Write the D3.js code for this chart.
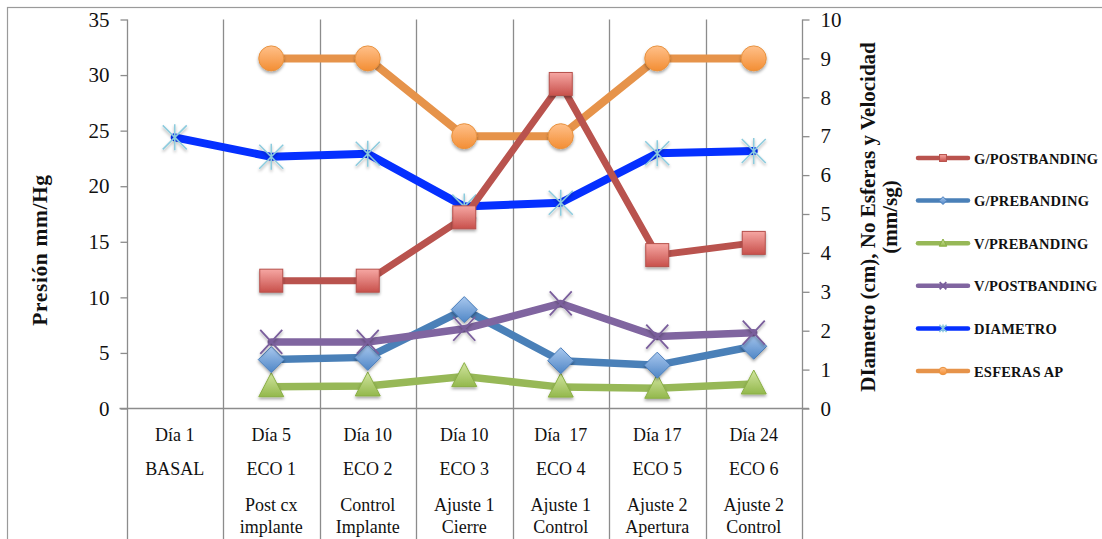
<!DOCTYPE html>
<html>
<head>
<meta charset="utf-8">
<script src="https://cdn.jsdelivr.net/npm/d3@7"></script>
<style>
  html, body { margin: 0; padding: 0; background: #fff; }
  svg { display: block; }
  text { font-family: "Liberation Serif", "DejaVu Serif", serif; fill: #111; }
</style>
</head>
<body>
<svg id="chart" width="1102" height="539"></svg>
<script>
// Category rows shown in the table under the plot
const dayLabels   = ["Día 1", "Día 5", "Día 10", "Día 10", "Día  17", "Día 17", "Día 24"];
const ecoLabels   = ["BASAL", "ECO 1", "ECO 2", "ECO 3", "ECO 4", "ECO 5", "ECO 6"];
const stageLabels = [[], ["Post cx", "implante"], ["Control", "Implante"], ["Ajuste 1", "Cierre"],
                     ["Ajuste 1", "Control"], ["Ajuste 2", "Apertura"], ["Ajuste 2", "Control"]];

// Pressure gradients (mm/Hg, left axis)
const gPostbanding = [null, 11.5, 11.5, 17.2, 29.2, 13.8, 14.9];
const gPrebanding  = [null, 4.4, 4.6, 8.9, 4.3, 3.9, 5.6];
// Velocities (right axis)
const vPrebanding  = [null, 0.56, 0.58, 0.82, 0.55, 0.52, 0.63];
const vPostbanding = [null, 1.71, 1.71, 2.05, 2.7, 1.85, 1.95];
// Diameter (cm) and number of spheres (right axis)
const diametro     = [6.97, 6.47, 6.55, 5.19, 5.29, 6.56, 6.62];
const esferasAP    = [null, 9, 9, 7, 7, 9, 9];

const leftTicks  = [0, 5, 10, 15, 20, 25, 30, 35];
const rightTicks = [0, 1, 2, 3, 4, 5, 6, 7, 8, 9, 10];

const svg = d3.select("#chart");
const defs = svg.append("defs");

const plotLeft = 126.5, plotRight = 802, plotTop = 19.5, plotBottom = 408.5, tableBottom = 539;

const x = d3.scaleBand().domain(d3.range(dayLabels.length)).range([plotLeft, plotRight]);
const yL = d3.scaleLinear().domain([0, 35]).range([plotBottom, plotTop]);
const yR = d3.scaleLinear().domain([0, 10]).range([plotBottom, plotTop]);

// shadow under markers
const sh = defs.append("filter").attr("id", "shadow")
  .attr("x", "-50%").attr("y", "-50%").attr("width", "200%").attr("height", "200%");
sh.append("feDropShadow").attr("dx", 0).attr("dy", 2).attr("stdDeviation", 1.6)
  .attr("flood-color", "#000").attr("flood-opacity", 0.35);

function grad(id, c1, c2) {
  const g = defs.append("linearGradient").attr("id", id)
    .attr("x1", 0).attr("y1", 0).attr("x2", 0).attr("y2", 1);
  g.append("stop").attr("offset", "0%").attr("stop-color", c1);
  g.append("stop").attr("offset", "100%").attr("stop-color", c2);
}
grad("gRed", "#F6A7A3", "#C8504B");
grad("gBlue", "#A9C8EE", "#4F86C6");
grad("gGreen", "#D2E5A0", "#93B84C");
grad("gOrange", "#FFC08A", "#F38E34");

// outer frame
svg.append("rect").attr("x", 7.5).attr("y", 7.5).attr("width", 1110).attr("height", 560)
  .attr("fill", "none").attr("stroke", "#9a9a9a").attr("stroke-width", 1.2);

// vertical grid/table separators
const bounds = d3.range(dayLabels.length + 1).map(i => i === dayLabels.length ? plotRight : x(i));
svg.append("g").selectAll("line").data(bounds).join("line")
  .attr("x1", d => Math.round(d) + 0.5).attr("x2", d => Math.round(d) + 0.5)
  .attr("y1", plotTop).attr("y2", tableBottom)
  .attr("stroke", "#8c8c8c").attr("stroke-width", 1.3);

// left axis
const axL = svg.append("g").attr("transform", `translate(${Math.round(plotLeft) + 0.5},0)`)
  .call(d3.axisLeft(yL).tickValues(leftTicks).tickSize(7).tickPadding(11));
axL.select(".domain").remove();
axL.selectAll("line").attr("stroke", "#8c8c8c").attr("stroke-width", 1.3);
axL.selectAll("text").attr("font-size", 21).style("font-family", "Liberation Serif").attr("fill", "#111");

// right axis
const axR = svg.append("g").attr("transform", `translate(${Math.round(plotRight) + 0.5},0)`)
  .call(d3.axisRight(yR).tickValues(rightTicks).tickSize(7).tickPadding(11));
axR.select(".domain").remove();
axR.selectAll("line").attr("stroke", "#8c8c8c").attr("stroke-width", 1.3);
axR.selectAll("text").attr("font-size", 21).style("font-family", "Liberation Serif").attr("fill", "#111");

// horizontal axis line
svg.append("line").attr("x1", plotLeft - 7).attr("x2", plotRight + 7)
  .attr("y1", plotBottom).attr("y2", plotBottom)
  .attr("stroke", "#8c8c8c").attr("stroke-width", 1.3);

// category table text
const cx = i => x(i) + x.bandwidth() / 2;
const tbl = svg.append("g").attr("font-size", 18).attr("text-anchor", "middle");
tbl.selectAll(".day").data(dayLabels).join("text").attr("class", "day")
  .attr("x", (d, i) => cx(i)).attr("y", 441).style("white-space", "pre").text(d => d);
tbl.selectAll(".eco").data(ecoLabels).join("text").attr("class", "eco")
  .attr("x", (d, i) => cx(i)).attr("y", 475).text(d => d);
stageLabels.forEach((lines, i) => {
  lines.forEach((t, j) => {
    tbl.append("text").attr("x", cx(i)).attr("y", 511 + j * 22).text(t);
  });
});

// axis titles
svg.append("text").attr("transform", "translate(47,250) rotate(-90)")
  .attr("text-anchor", "middle").attr("font-size", 21.5).attr("font-weight", "bold")
  .attr("letter-spacing", 0.6)
  .text("Presión mm/Hg");
const rt = svg.append("text").attr("transform", "translate(875,217) rotate(-90)")
  .attr("text-anchor", "middle").attr("font-size", 21).attr("font-weight", "bold");
rt.append("tspan").attr("x", 0).attr("dy", 0).text("DIametro (cm), No Esferas y Velocidad");
rt.append("tspan").attr("x", 0).attr("dy", 22).text("(mm/sg)");

// marker painters
const markers = {
  square: (g, s) => g.append("rect").attr("x", -11.5 * s).attr("y", -11.5 * s)
    .attr("width", 23 * s).attr("height", 23 * s)
    .attr("fill", "url(#gRed)").attr("stroke", "#B6504B").attr("stroke-width", 1),
  diamond: (g, s) => g.append("path")
    .attr("d", `M0,${-13 * s}L${13 * s},0L0,${13 * s}L${-13 * s},0Z`)
    .attr("fill", "url(#gBlue)").attr("stroke", "#4A7EBB").attr("stroke-width", 1),
  triangle: (g, s) => g.append("path")
    .attr("d", `M0,${-14 * s}L${12.5 * s},${10 * s}L${-12.5 * s},${10 * s}Z`)
    .attr("fill", "url(#gGreen)").attr("stroke", "#8AAF45").attr("stroke-width", 1),
  cross: (g, s) => g.append("path")
    .attr("d", `M${-11 * s},${-12 * s}L${11 * s},${12 * s}M${11 * s},${-12 * s}L${-11 * s},${12 * s}`)
    .attr("fill", "none").attr("stroke", "#7A5E9C").attr("stroke-width", 1.8),
  star: (g, s) => g.append("path")
    .attr("d", `M${-12 * s},${-12 * s}L${12 * s},${12 * s}M${12 * s},${-12 * s}L${-12 * s},${12 * s}M0,${-13 * s}L0,${13 * s}`)
    .attr("fill", "none").attr("stroke", "#8CCBDD").attr("stroke-width", 1.5),
  circle: (g, s) => g.append("circle").attr("r", 12.5 * s)
    .attr("fill", "url(#gOrange)").attr("stroke", "#E8923F").attr("stroke-width", 1)
};

const series = [
  { name: "G/POSTBANDING", values: gPostbanding, axis: yL, color: "#B9534E", width: 7, marker: "square" },
  { name: "G/PREBANDING",  values: gPrebanding,  axis: yL, color: "#4A80B8", width: 7.5, marker: "diamond" },
  { name: "V/PREBANDING",  values: vPrebanding,  axis: yR, color: "#97B857", width: 7.5, marker: "triangle" },
  { name: "V/POSTBANDING", values: vPostbanding, axis: yR, color: "#8065A0", width: 7.5, marker: "cross" },
  { name: "DIAMETRO",      values: diametro,     axis: yR, color: "#0530FF", width: 8, marker: "star" },
  { name: "ESFERAS AP",    values: esferasAP,    axis: yR, color: "#E6934A", width: 8, marker: "circle" }
];

// draw order: orange and blue diameter at the back, pressure series over them
const drawOrder = ["ESFERAS AP", "DIAMETRO", "V/PREBANDING", "G/PREBANDING", "V/POSTBANDING", "G/POSTBANDING"];
const plot = svg.append("g");
drawOrder.map(n => series.find(s => s.name === n)).forEach(s => {
  const pts = s.values.map((v, i) => ({ i, v })).filter(d => d.v !== null);
  const line = d3.line().x(d => cx(d.i)).y(d => s.axis(d.v)).curve(d3.curveLinear);
  const g = plot.append("g");
  g.append("path").datum(pts).attr("d", line)
    .attr("fill", "none").attr("stroke", s.color).attr("stroke-width", s.width)
    .attr("stroke-linejoin", "round").attr("stroke-linecap", "round");
  g.selectAll(".m").data(pts).join("g").attr("class", "m")
    .attr("transform", d => `translate(${cx(d.i)},${s.axis(d.v)})`)
    .attr("filter", "url(#shadow)")
    .each(function () { markers[s.marker](d3.select(this), 1); });
});

// legend
const leg = svg.append("g");
series.forEach((s, k) => {
  const yy = 158 + k * 42.6;
  const g = leg.append("g").attr("transform", `translate(0,${yy})`);
  g.append("line").attr("x1", 918).attr("x2", 968).attr("y1", 0).attr("y2", 0)
    .attr("stroke", s.color).attr("stroke-width", 4.5).attr("stroke-linecap", "round");
  const mg = g.append("g").attr("transform", "translate(943,0)");
  markers[s.marker](mg, 0.3);
  g.append("text").attr("x", 974).attr("y", 5.5).attr("font-size", 14.5)
    .attr("font-weight", "bold").attr("letter-spacing", 0.2).text(s.name);
});
</script>
</body>
</html>
